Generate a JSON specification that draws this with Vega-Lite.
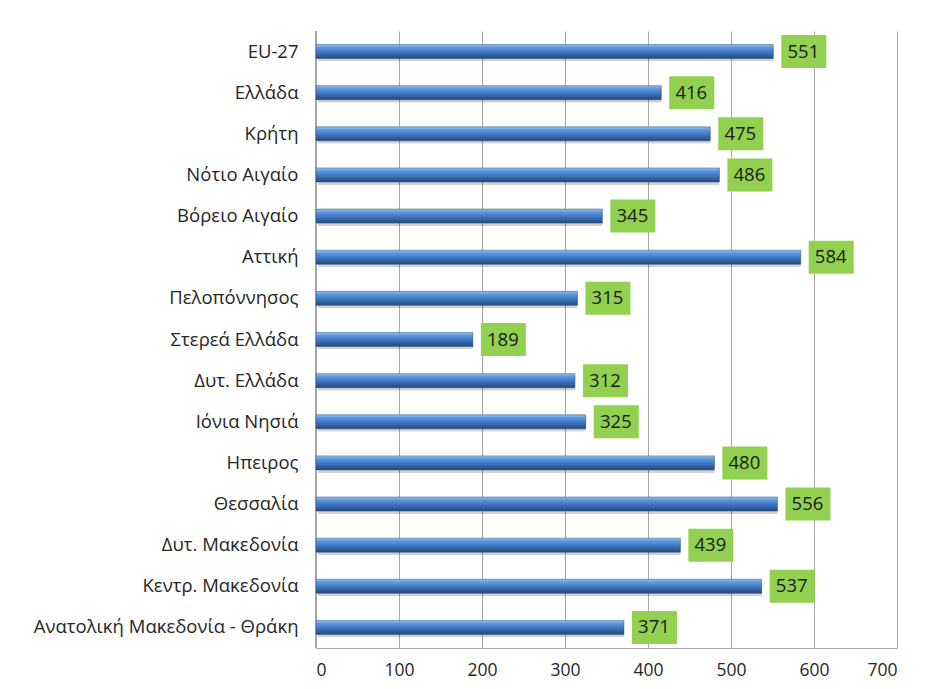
{
  "$schema": "https://vega.github.io/schema/vega-lite/v6.json",
  "width": 581,
  "height": 617,
  "autosize": "none",
  "padding": {"left": 316, "top": 31, "right": 32, "bottom": 41},
  "background": "white",
  "config": {"view": {"stroke": null}, "font": "Open Sans"},
  "data": {"values": [
    {"region": "EU-27", "value": 551},
    {"region": "Ελλάδα ", "value": 416},
    {"region": "Κρήτη", "value": 475},
    {"region": "Νότιο Αιγαίο", "value": 486},
    {"region": "Βόρειο Αιγαίο", "value": 345},
    {"region": "Αττική", "value": 584},
    {"region": "Πελοπόννησος", "value": 315},
    {"region": "Στερεά Ελλάδα", "value": 189},
    {"region": "Δυτ. Ελλάδα", "value": 312},
    {"region": "Ιόνια Νησιά", "value": 325},
    {"region": "Ηπειρος", "value": 480},
    {"region": "Θεσσαλία", "value": 556},
    {"region": "Δυτ. Μακεδονία", "value": 439},
    {"region": "Κεντρ. Μακεδονία", "value": 537},
    {"region": "Ανατολική Μακεδονία - Θράκη", "value": 371}
  ]},
  "encoding": {
    "y": {
      "field": "region", "type": "nominal", "sort": null, "title": null,
      "axis": {"domain": false, "ticks": false, "labelFontSize": 18.5, "labelColor": "#262626", "labelPadding": 18, "labelFont": "Open Sans", "labelLimit": 400}
    },
    "x": {
      "field": "value", "type": "quantitative", "title": null,
      "scale": {"domain": [0, 700], "nice": false},
      "axis": {"values": [0, 100, 200, 300, 400, 500, 600, 700], "grid": true, "gridColor": "#a6a6a6", "gridWidth": 1, "domainColor": "#a6a6a6", "ticks": false, "labelFontSize": 17.5, "labelColor": "#262626", "labelPadding": 13, "labelFont": "Open Sans"}
    }
  },
  "layer": [
    {
      "mark": {"type": "rule", "color": "#a6a6a6", "strokeWidth": 1},
      "encoding": {"x": {"datum": 0}, "y": null}
    },
    {
      "mark": {"type": "bar", "height": 14, "xOffset": 2, "x2Offset": 2, "yOffset": 3, "color": "#000000", "opacity": 0.18, "cornerRadius": 1},
      "encoding": {}
    },
    {
      "mark": {"type": "bar", "height": 14, "stroke": "#2c4d75", "strokeWidth": 0.5,
        "color": {"gradient": "linear", "x1": 0, "y1": 0, "x2": 0, "y2": 1, "stops": [
          {"offset": 0, "color": "#9cc2ee"},
          {"offset": 0.2, "color": "#5e9ae0"},
          {"offset": 0.55, "color": "#3e76bf"},
          {"offset": 1, "color": "#25497c"}
        ]}},
      "encoding": {}
    },
    {
      "mark": {"type": "bar", "height": 33, "xOffset": 8, "x2Offset": 53, "color": "#92d050"},
      "encoding": {"x2": {"field": "value"}}
    },
    {
      "mark": {"type": "text", "dx": 30, "align": "center", "baseline": "middle", "fontSize": 18.5, "color": "#1a1a1a", "font": "Open Sans"},
      "encoding": {"text": {"field": "value", "type": "quantitative"}}
    }
  ]
}
